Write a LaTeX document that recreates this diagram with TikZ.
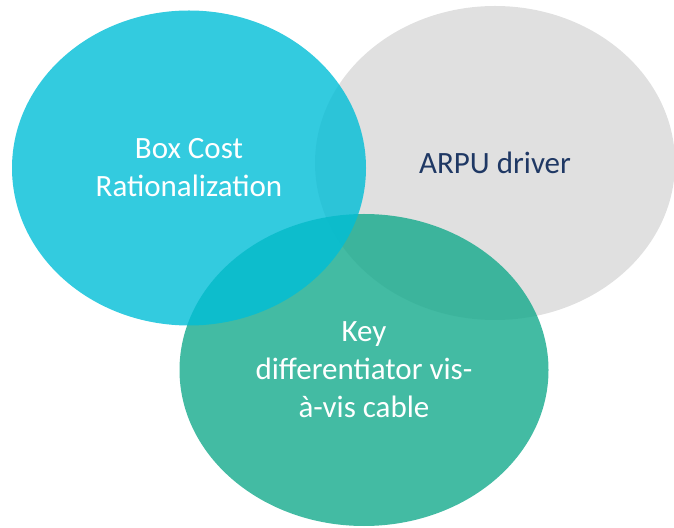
\documentclass[tikz,border=0pt]{standalone}
\usepackage{fontspec}
\setmainfont{Carlito}
\usepackage{xcolor}
\usepackage{tikz}
\usetikzlibrary{shapes.geometric}

\definecolor{boxblue}{RGB}{0,190,215}
\definecolor{keygreen}{RGB}{20,170,140}
\definecolor{arpugray}{RGB}{224,224,224}
\definecolor{arpunavy}{RGB}{31,56,100}

\begin{document}
\begin{tikzpicture}[x=1pt, y=1pt,
  bubble/.style={ellipse, inner sep=0pt, align=center, text opacity=1,
    font=\fontsize{31}{38}\selectfont, text=white}]
\useasboundingbox (0,0) rectangle (674,527);
% grey bubble sits underneath, the two coloured ones are see-through
\node[bubble, fill=arpugray, minimum width=360pt, minimum height=314pt, text=arpunavy] (arpu) at (495,364) {ARPU driver};
\node[bubble, fill=keygreen, fill opacity=0.8, minimum width=369pt, minimum height=312pt] (key) at (364,157) {Key\\ differentiator vis-\\ à-vis cable};
\node[bubble, fill=boxblue, fill opacity=0.8, minimum width=354pt, minimum height=315pt] (box) at (189,359) {Box Cost\\ Rationalization};
\end{tikzpicture}
\end{document}
